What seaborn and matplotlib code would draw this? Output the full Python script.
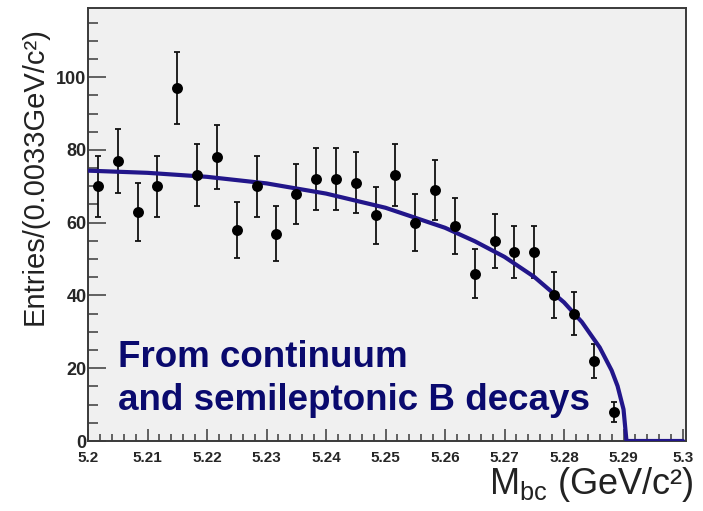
import numpy as np
import pandas as pd
import matplotlib
matplotlib.use("Agg")
import matplotlib.pyplot as plt
from matplotlib.ticker import MultipleLocator
import seaborn as sns

# ---- data ----
bin_centers = [5.20167, 5.20500, 5.20833, 5.21167, 5.21500, 5.21833, 5.22167,
               5.22500, 5.22833, 5.23167, 5.23500, 5.23833, 5.24167, 5.24500,
               5.24833, 5.25167, 5.25500, 5.25833, 5.26167, 5.26500, 5.26833,
               5.27167, 5.27500, 5.27833, 5.28167, 5.28500, 5.28833]
entries = [70, 77, 63, 70, 97, 73, 78, 58, 70, 57, 68, 72, 72, 71, 62, 73,
           60, 69, 59, 46, 55, 52, 52, 40, 35, 22, 8]

# fitted background curve
curve_x = [5.200, 5.210, 5.220, 5.230, 5.240, 5.250, 5.260, 5.265, 5.270,
           5.275, 5.280, 5.283, 5.286, 5.288, 5.289, 5.290, 5.2905, 5.300]
curve_y = [74.3, 73.7, 72.6, 70.8, 68.0, 64.1, 58.6, 54.9, 50.6,
           45.1, 38.1, 32.7, 25.7, 19.4, 15.1, 8.7, 0.0, 0.0]

x_ticks = [5.2, 5.21, 5.22, 5.23, 5.24, 5.25, 5.26, 5.27, 5.28, 5.29, 5.3]
x_tick_labels = ["5.2", "5.21", "5.22", "5.23", "5.24", "5.25", "5.26",
                 "5.27", "5.28", "5.29", "5.3"]
y_ticks = [0, 20, 40, 60, 80, 100]
annotation_lines = ["From continuum", "and semileptonic B decays"]

# ---- style ----
sns.set_style("ticks")
plt.rcParams["font.family"] = ["Liberation Sans", "DejaVu Sans"]
plt.rcParams["mathtext.fontset"] = "custom"
plt.rcParams["mathtext.rm"] = "Liberation Sans"

frame_col = "#3a3a3a"
curve_col = "#22168a"
text_col = "#0a0a6e"

fig = plt.figure(figsize=(7.03, 5.11), dpi=100)
fig.patch.set_facecolor("white")
ax = fig.add_axes([88 / 703, 70 / 511, 598 / 703, 433 / 511])
ax.set_facecolor("#f0f0f0")

pts = pd.DataFrame({"mbc": bin_centers, "n": entries})
pts["err"] = np.sqrt(pts["n"])
fit = pd.DataFrame({"mbc": curve_x, "f": curve_y})

ax.errorbar(pts["mbc"], pts["n"], yerr=pts["err"], fmt="none",
            ecolor="#111111", elinewidth=1.3, capsize=2.3, capthick=1.3,
            zorder=2)
sns.lineplot(data=fit, x="mbc", y="f", ax=ax, color=curve_col,
             linewidth=3.0, zorder=3, estimator=None, sort=False)
sns.scatterplot(data=pts, x="mbc", y="n", ax=ax, color="black", s=62,
                edgecolor="black", linewidth=0, zorder=4)

ax.set_xlim(5.2, 5.3005)
ax.set_ylim(0, 119)

ax.set_xticks(x_ticks)
ax.set_xticklabels(x_tick_labels)
ax.xaxis.set_minor_locator(MultipleLocator(0.002))
ax.set_yticks(y_ticks)
ax.yaxis.set_minor_locator(MultipleLocator(5))

ax.tick_params(axis="y", which="major", direction="in", length=13, width=1.1,
               color=frame_col, pad=1, labelsize=13)
ax.tick_params(axis="y", which="minor", direction="in", length=7, width=1.1,
               color=frame_col)
ax.tick_params(axis="x", which="major", direction="in", length=9, width=1.1,
               color=frame_col, pad=7, labelsize=11)
ax.tick_params(axis="x", which="minor", direction="in", length=5, width=1.1,
               color=frame_col)
for lab in ax.get_xticklabels() + ax.get_yticklabels():
    lab.set_fontweight("bold")

for sp in ax.spines.values():
    sp.set_visible(True)
    sp.set_color(frame_col)
    sp.set_linewidth(1.4)

ax.set_ylabel("Entries/(0.0033GeV/c²)", fontsize=21, color="#222222")
ax.yaxis.set_label_coords(-0.066, 0.612)
ax.set_xlabel(r"M$_{\mathregular{bc}}$ (GeV/c²)", fontsize=26,
              color="#222222", loc="right")
ax.xaxis.set_label_coords(1.012, -0.055)

ax.text(5.2050, 20.3, annotation_lines[0], fontsize=26.5, fontweight="bold",
        color=text_col, va="baseline", ha="left", zorder=5)
ax.text(5.2050, 8.5, annotation_lines[1], fontsize=26.5, fontweight="bold",
        color=text_col, va="baseline", ha="left", zorder=5)

fig.savefig("out.png", dpi=100)
